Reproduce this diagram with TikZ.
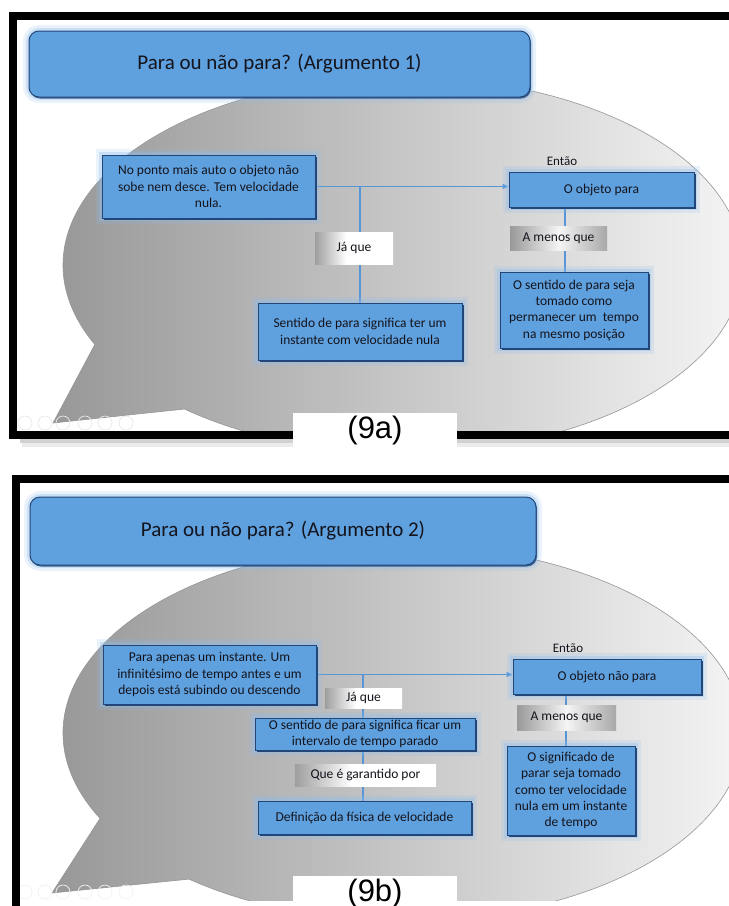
\documentclass[tikz,border=0pt]{standalone}
\usepackage{fontspec}
\setmainfont{Carlito}
\newfontfamily\arialf{Liberation Sans}
\usetikzlibrary{arrows.meta,shadows,calc}
\pgfdeclarelayer{back}
\pgfdeclarelayer{lines}
\pgfsetlayers{back,lines,main}
\definecolor{boxblue}{RGB}{95,160,222}
\definecolor{boxedge}{RGB}{35,70,120}
\definecolor{glowc}{RGB}{140,190,240}
\definecolor{linec}{RGB}{86,150,215}
\definecolor{txtc}{RGB}{20,20,28}
\definecolor{bubL}{RGB}{150,150,150}
\definecolor{bubR}{RGB}{250,250,250}
\definecolor{bubEdge}{RGB}{150,150,150}
\pgfdeclarehorizontalshading{shadeA}{100bp}{rgb(0bp)=(0.62,0.62,0.62); rgb(25bp)=(0.62,0.62,0.62); rgb(45bp)=(1,1,1); rgb(100bp)=(1,1,1)}
\pgfdeclarehorizontalshading{shadeB}{100bp}{rgb(0bp)=(0.6,0.6,0.6); rgb(25bp)=(0.6,0.6,0.6); rgb(50bp)=(0.96,0.96,0.96); rgb(75bp)=(0.66,0.66,0.66); rgb(100bp)=(0.66,0.66,0.66)}
\tikzset{
  glow/.style={preaction={draw=glowc, line width=12pt, opacity=0.18},
               preaction={draw=glowc, line width=6pt, opacity=0.35}},
  bx/.style={glow, drop shadow={shadow xshift=1.8pt, shadow yshift=-1.8pt, fill=boxedge, opacity=1},
             draw=boxedge, line width=0.8pt, fill=boxblue, text=txtc, align=center,
             inner sep=2pt, font=\fontsize{13.5}{16.3}\selectfont},
  tbox/.style={glow, drop shadow={shadow xshift=1pt, shadow yshift=-1.5pt, fill=boxedge, opacity=0.8},
             rounded corners=10pt, draw=boxedge, line width=1pt, fill=boxblue, text=txtc,
             font=\fontsize{21}{25}\selectfont},
  labgrad/.style={shade, shading=shadeA, text=txtc, inner sep=0pt, font=\fontsize{13.5}{16}\selectfont},
  labmid/.style={shade, shading=shadeB, text=txtc, inner sep=0pt, font=\fontsize{13.5}{16}\selectfont},
  txtlab/.style={text=txtc, inner sep=0pt, font=\fontsize{13}{15}\selectfont},
  nine/.style={fill=white, inner sep=0pt, text=black, font=\arialf\fontsize{31}{34}\selectfont},
  bubble/.style={left color=bubL, right color=bubR, draw=bubEdge, line width=0.6pt},
  conn/.style={draw=linec, line width=1.6pt},
  tip/.style={-{Triangle[length=6pt,width=5pt]}},
  icon/.style={draw=gray!18, line width=0.7pt}
}
\begin{document}
\begin{tikzpicture}[x=1pt,y=-1pt]
\useasboundingbox (0,0) rectangle (729,906);

% ---------------- backgrounds ----------------
\begin{pgfonlayer}{back}
\fill[white] (-2,-2) rectangle (731,908);
% top panel bubble
\begin{scope}
  \clip (17,20) rectangle (729,431);
  \coordinate (c1) at (403,265);
  \path[bubble] ($(c1)+(155:340 and 188)$) -- (53,423) -- ($(c1)+(130:340 and 188)$)
     arc[start angle=130, end angle=-205, x radius=340, y radius=188] -- cycle;
  \foreach \x in {25,45,63,85,105,126} \draw[icon] (\x,423) circle[radius=7];
\end{scope}
\fill[black,opacity=0.18] (20,439) rectangle (729,443);
\fill[black,opacity=0.08] (22,443) rectangle (729,447);
\draw[line width=8pt] (13,16) rectangle (760,435);
% bottom panel bubble
\begin{scope}
  \clip (20,483) rectangle (729,900);
  \coordinate (c2) at (403,733);
  \path[bubble] ($(c2)+(153:340 and 188)$) -- (52,893) -- ($(c2)+(129:340 and 188)$)
     arc[start angle=129, end angle=-207, x radius=340, y radius=188] -- cycle;
  \foreach \x in {25,45,63,85,105,126} \draw[icon, draw=gray!10] (\x,892) circle[radius=7];
\end{scope}
\draw[line width=8pt] (16,479) rectangle (760,912);
\end{pgfonlayer}

% ---------------- top panel (9a) ----------------
\node[tbox, minimum width=501pt, minimum height=66pt] (t1) at (279.5,64) {Para ou não para? (Argumento 1)};
\node[bx, minimum width=213pt, minimum height=63pt] (a1) at (208.5,186.5)
  {No ponto mais auto o objeto não\\sobe nem desce. Tem velocidade\\nula.};
\node[bx, minimum width=185pt, minimum height=35pt] (a2) at (601.5,189.5) {O objeto para};
\node[txtlab] (a3) at (562,161) {Então};
\node[bx, minimum width=204pt, minimum height=57pt] (a4) at (360,331.5)
  {Sentido de para significa ter um\\instante com velocidade nula};
\node[labgrad, minimum width=78pt, minimum height=32pt] (a5) at (354,248) {Já que};
\node[labmid, minimum width=97pt, minimum height=24pt] (a6) at (558.5,238) {A menos que};
\node[bx, minimum width=148pt, minimum height=76pt] (a7) at (574,310)
  {O sentido de para seja\\tomado como\\permanecer um\ \ tempo\\na mesmo posição};
\node[nine, minimum width=164pt, minimum height=35pt] (a8) at (375,430.5) {(9a)};

% ---------------- bottom panel (9b) ----------------
\node[tbox, minimum width=506pt, minimum height=68pt] (b0) at (283,531) {\raisebox{5pt}{Para ou não para? (Argumento 2)}};
\node[bx, minimum width=213pt, minimum height=59pt] (b1) at (209.5,674.5)
  {Para apenas um instante. Um\\infinitésimo de tempo antes e um\\depois está subindo ou descendo};
\node[txtlab] (b3) at (568,648) {Então};
\node[bx, minimum width=188pt, minimum height=35pt] (b2) at (607,676.5) {O objeto não para};
\node[bx, minimum width=220pt, minimum height=32pt, inner sep=0pt] (b5) at (365,734)
  {O sentido de para significa ficar um\\intervalo de tempo parado};
\node[labgrad, minimum width=77pt, minimum height=20pt] (b4) at (363.5,698) {Já que};
\node[labgrad, minimum width=141pt, minimum height=22pt] (b6) at (365.5,775) {Que é garantido por};
\node[bx, minimum width=213pt, minimum height=33pt] (b7) at (364.5,817.5) {Definição da física de velocidade};
\node[labmid, minimum width=99pt, minimum height=25pt] (b8) at (566.5,717.5) {A menos que};
\node[bx, minimum width=128pt, minimum height=89pt] (b9) at (571,790.5)
  {O significado de\\parar seja tomado\\como ter velocidade\\nula em um instante\\de tempo};
\node[nine, minimum width=164pt, minimum height=34pt] (b10) at (375,893) {(9b)};

% ---------------- connectors ----------------
\begin{pgfonlayer}{lines}
\draw[conn, tip] (a1.east) -- (a1.east -| a2.west);
\draw[conn] (a1.east -| a4.north) -- (a4.north);
\draw[conn] (565,0 |- a2.south) -- (565,0 |- a7.north);
\draw[conn, tip] (b1.east) -- (b1.east -| b2.west);
\draw[conn] (363,0 |- b1.east) -- (363,0 |- b5.north);
\draw[conn] (363,0 |- b5.south) -- (363,0 |- b7.north);
\draw[conn] (566,0 |- b2.south) -- (566,0 |- b9.north);
\end{pgfonlayer}
\end{tikzpicture}
\end{document}
